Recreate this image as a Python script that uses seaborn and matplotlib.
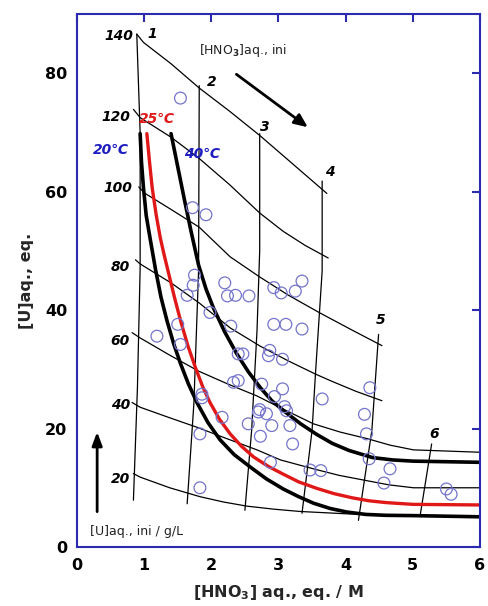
import numpy as np
import pandas as pd
import matplotlib
matplotlib.use("Agg")
import matplotlib.pyplot as plt
import seaborn as sns

# ---------------- data ----------------
# experimental points (open circles)
pts_x = [1.54, 1.72, 1.92, 1.75, 1.73, 1.64, 2.20, 2.24, 2.36, 2.56, 2.93, 3.04, 3.25, 3.35,
         1.98, 2.29, 1.50, 1.19, 1.54, 2.40, 2.47, 2.93, 3.11, 3.35, 2.87, 2.85, 3.06,
         2.33, 2.40, 2.75, 3.06, 2.94, 3.65, 2.72, 2.70, 2.82, 3.09, 3.12, 3.17, 2.90,
         2.55, 2.16, 1.86, 1.86, 1.83, 2.73, 3.21, 4.36, 4.28, 4.31, 4.35, 4.66, 4.57,
         3.47, 3.63, 2.88, 1.83, 5.50, 5.57]
pts_y = [75.8, 57.3, 56.1, 45.9, 44.2, 42.5, 44.6, 42.4, 42.5, 42.4, 43.8, 42.9, 43.2, 44.9,
         39.6, 37.3, 37.6, 35.6, 34.2, 32.6, 32.6, 37.6, 37.6, 36.8, 33.2, 32.3, 31.7,
         27.8, 28.1, 27.5, 26.7, 25.4, 25.0, 23.2, 22.8, 22.5, 23.7, 23.0, 20.5, 20.5,
         20.8, 21.9, 25.8, 25.2, 19.1, 18.7, 17.4, 26.9, 22.4, 19.1, 14.9, 13.2, 10.8,
         13.0, 12.9, 14.3, 10.0, 9.8, 8.9]

# thick solubility curves
t20_x = [0.94, 0.96, 0.99, 1.03, 1.09, 1.17, 1.25, 1.34, 1.44, 1.54, 1.66, 1.79, 1.95, 2.13,
         2.34, 2.58, 2.82, 3.07, 3.30, 3.52, 3.77, 4.02, 4.30, 4.60, 5.00, 6.00]
t20_y = [69.8, 65.0, 60.6, 56.0, 52.0, 46.8, 42.2, 38.2, 34.3, 31.0, 27.5, 24.3, 21.0, 18.1,
         15.6, 13.5, 11.5, 9.8, 8.5, 7.4, 6.5, 5.9, 5.5, 5.35, 5.3, 5.1]
t25_x = [1.04, 1.08, 1.12, 1.18, 1.24, 1.30, 1.36, 1.45, 1.54, 1.65, 1.76, 1.87, 1.98, 2.12,
         2.28, 2.45, 2.63, 2.85, 3.07, 3.30, 3.57, 3.83, 4.10, 4.35, 4.60, 5.00, 6.00]
t25_y = [69.8, 65.0, 60.6, 56.0, 52.2, 49.2, 46.4, 42.2, 38.3, 34.0, 30.4, 27.1, 24.4, 21.6,
         19.1, 17.0, 15.2, 13.6, 12.3, 11.0, 9.9, 9.0, 8.3, 7.8, 7.5, 7.2, 7.1]
t40_x = [1.40, 1.50, 1.60, 1.70, 1.81, 1.92, 2.03, 2.20, 2.38, 2.55, 2.73, 2.90, 3.10, 3.33,
         3.57, 3.80, 4.05, 4.40, 4.70, 5.00, 6.00]
t40_y = [69.8, 64.2, 58.6, 53.2, 47.6, 43.6, 40.4, 36.3, 32.6, 29.6, 26.9, 24.7, 22.8, 20.8,
         19.0, 17.5, 16.3, 15.1, 14.7, 14.5, 14.3]

# iso-[U]aq.,ini lines (g/L)
u_labels = ["140", "120", "100", "80", "60", "40", "20"]
u140_x = [0.89, 0.99, 1.40, 1.82, 2.27, 2.72, 3.20, 3.72]
u140_y = [86.6, 85.2, 81.6, 77.5, 73.6, 69.5, 64.8, 59.7]
u120_x = [0.84, 0.94, 1.40, 1.82, 2.27, 2.72, 3.07, 3.40, 3.74]
u120_y = [73.9, 72.5, 69.2, 65.6, 61.2, 56.4, 53.3, 50.9, 48.8]
u100_x = [0.92, 1.00, 1.40, 1.82, 2.28, 2.72, 3.15, 3.62, 4.10, 4.54]
u100_y = [60.8, 59.8, 57.0, 54.0, 49.0, 45.6, 42.5, 39.5, 36.6, 34.0]
u80_x = [0.87, 0.94, 1.40, 1.82, 2.28, 2.73, 3.15, 3.55, 3.77, 4.15, 4.54]
u80_y = [48.5, 47.8, 44.6, 41.2, 37.0, 33.9, 31.4, 29.2, 28.1, 26.3, 24.7]
u60_x = [0.82, 0.94, 1.38, 1.81, 2.25, 2.68, 3.03, 3.52, 3.92, 4.32, 4.66, 5.01, 6.0]
u60_y = [36.2, 35.3, 32.4, 29.7, 27.5, 25.5, 23.5, 20.8, 19.4, 18.3, 17.2, 16.4, 16.0]
u40_x = [0.82, 0.94, 1.36, 1.79, 2.23, 2.68, 3.03, 3.52, 3.90, 4.27, 4.64, 5.01, 6.0]
u40_y = [24.4, 23.6, 21.9, 20.2, 18.3, 16.4, 14.7, 13.2, 12.1, 11.3, 10.5, 10.0, 10.0]
u20_x = [0.84, 0.94, 1.38, 1.83, 2.18, 2.53, 2.92, 3.32, 3.67, 4.02, 4.30]
u20_y = [12.4, 11.8, 10.0, 8.5, 7.6, 6.9, 6.4, 6.0, 5.8, 5.6, 5.5]

# iso-[HNO3]aq.,ini lines (M)
h_labels = ["1", "2", "3", "4", "5", "6"]
h1_x = [0.89, 0.94, 0.94, 0.90, 0.84]
h1_y = [86.6, 70.0, 47.0, 27.0, 7.9]
h2_x = [1.82, 1.81, 1.74, 1.64]
h2_y = [77.9, 46.6, 24.2, 7.3]
h3_x = [2.72, 2.72, 2.68, 2.60, 2.50]
h3_y = [69.8, 50.0, 36.5, 19.7, 6.2]
h4_x = [3.65, 3.65, 3.55, 3.50, 3.35]
h4_y = [61.8, 46.6, 29.2, 19.7, 5.7]
h5_x = [4.49, 4.39, 4.19]
h5_y = [35.9, 19.7, 4.5]
h6_x = [5.28, 5.11]
h6_y = [17.4, 5.4]

x_ticks = [0, 1, 2, 3, 4, 5, 6]
y_ticks = [0, 20, 40, 60, 80]

# ---------------- style ----------------
sns.set_style("white")
plt.rcParams['font.family'] = ['DejaVu Sans']
plt.rcParams['font.weight'] = 'bold'

BLUE_AX = "#2b2bb0"
CIRC = "#7474cc"

fig = plt.figure(figsize=(4.89, 6.06), dpi=100)
ax = fig.add_axes([77/489, 1-547/606, (480-77)/489, (547-14)/606])

def line(xs, ys, **kw):
    sns.lineplot(x=xs, y=ys, sort=False, estimator=None, legend=False, ax=ax, **kw)

thin = dict(color="black", linewidth=0.9)
for xs, ys in [(u140_x, u140_y), (u120_x, u120_y), (u100_x, u100_y), (u80_x, u80_y),
               (u60_x, u60_y), (u40_x, u40_y), (u20_x, u20_y),
               (h1_x, h1_y), (h2_x, h2_y), (h3_x, h3_y), (h4_x, h4_y), (h5_x, h5_y), (h6_x, h6_y)]:
    line(xs, ys, **thin)

line(t20_x, t20_y, color="black", linewidth=2.6)
line(t25_x, t25_y, color="#e01818", linewidth=2.4)
line(t40_x, t40_y, color="black", linewidth=2.6)

sns.scatterplot(x=pts_x, y=pts_y, s=72, facecolor="none", edgecolor=CIRC,
                linewidth=0.9, ax=ax, legend=False, zorder=3)

# labels for iso lines
lab_kw = dict(fontsize=10, fontweight="bold", fontstyle="italic", color="black")
u_pos = [(0.84, 86.3), (0.80, 72.6), (0.82, 60.7), (0.79, 47.3), (0.79, 34.8), (0.79, 23.9), (0.79, 11.5)]
for lab, (x, y) in zip(u_labels, u_pos):
    ax.text(x, y, lab, ha="right", va="center", **lab_kw)
h_pos = [(1.12, 86.6), (2.01, 78.5), (2.80, 70.9), (3.77, 63.4), (4.52, 38.3), (5.32, 19.0)]
for lab, (x, y) in zip(h_labels, h_pos):
    ax.text(x, y, lab, ha="center", va="center", **lab_kw)

ax.text(1.19, 72.3, "25℃", ha="center", va="center", color="#e01818",
        fontsize=10, fontweight="bold", fontstyle="italic")
ax.text(0.50, 67.0, "20℃", ha="center", va="center", color="#1c1cc0",
        fontsize=10, fontweight="bold", fontstyle="italic")
ax.text(1.86, 66.3, "40℃", ha="center", va="center", color="#1c1cc0",
        fontsize=10, fontweight="bold", fontstyle="italic")

ax.text(2.47, 83.8, "[HNO$_3$]aq., ini", ha="center", va="center",
        fontsize=9, fontweight="normal", color="#222222")
ax.annotate("", xy=(3.47, 70.6), xytext=(2.34, 80.1),
            arrowprops=dict(arrowstyle="-|>,head_length=0.8,head_width=0.35", color="black", lw=2.0))
ax.text(0.20, 2.6, "[U]aq., ini / g/L", ha="left", va="center",
        fontsize=9, fontweight="normal", color="#222222")
ax.annotate("", xy=(0.30, 19.9), xytext=(0.30, 5.5),
            arrowprops=dict(arrowstyle="-|>,head_length=0.8,head_width=0.3", color="black", lw=2.0))

# axes
ax.set_xlim(0, 6)
ax.set_ylim(0, 90)
ax.set_xticks(x_ticks)
ax.set_yticks(y_ticks)
ax.set_xticklabels([str(t) for t in x_ticks])
ax.set_yticklabels([str(t) for t in y_ticks])
ax.tick_params(direction="in", top=True, right=True, length=6, width=1.5,
               color=BLUE_AX, labelsize=11.5, labelcolor="black")
ax.tick_params(axis="x", pad=8)
ax.tick_params(axis="y", pad=7)
for lab in ax.get_xticklabels() + ax.get_yticklabels():
    lab.set_fontweight("bold")
for sp in ax.spines.values():
    sp.set_color(BLUE_AX)
    sp.set_linewidth(1.5)

ax.set_xlabel("[HNO$_3$] aq., eq. / M", fontsize=11.5, fontweight="bold", labelpad=7)
ax.set_ylabel("[U]aq., eq.", fontsize=11.5, fontweight="bold", labelpad=8)

fig.savefig("out.png", dpi=100)
